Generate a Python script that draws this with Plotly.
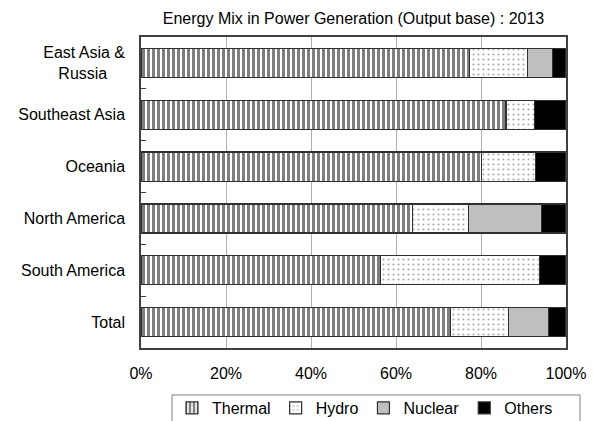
import plotly.graph_objects as go

regions = ["East Asia &<br>Russia" + "\u00a0" * 4, "Southeast Asia", "Oceania",
           "North America", "South America", "Total"]
thermal = [0.772, 0.859, 0.801, 0.639, 0.564, 0.728]
hydro = [0.138, 0.067, 0.127, 0.132, 0.374, 0.136]
nuclear = [0.059, 0.0, 0.0, 0.171, 0.0, 0.094]
others = [0.031, 0.074, 0.072, 0.058, 0.062, 0.042]

FONT = "Liberation Sans, Arial, sans-serif"
edge = dict(color="#303030", width=1.2)

fig = go.Figure()
fig.add_trace(go.Bar(y=regions, x=thermal, name="Thermal", orientation="h",
                     marker=dict(color="white", line=edge,
                                 pattern=dict(shape="|", fgcolor="black", bgcolor="white",
                                              size=5, solidity=0.6))))
fig.add_trace(go.Bar(y=regions, x=hydro, name="Hydro", orientation="h",
                     marker=dict(color="white", line=edge,
                                 pattern=dict(shape=".", fgcolor="#555555", bgcolor="white",
                                              size=5, solidity=0.15))))
fig.add_trace(go.Bar(y=regions, x=nuclear, name="Nuclear", orientation="h",
                     marker=dict(color="#bfbfbf", line=edge)))
fig.add_trace(go.Bar(y=regions, x=others, name="Others", orientation="h",
                     marker=dict(color="black", line=edge)))

# legend frame drawn as a shape so it can run off the bottom edge like the original
fig.add_shape(type="rect", xref="paper", yref="paper",
              x0=0.073, x1=1.033, y0=-0.151, y1=-0.27,
              line=dict(color="#808080", width=1), fillcolor="white", layer="below")

fig.update_layout(
    width=593, height=421,
    margin=dict(l=141, r=27, t=37, b=73, autoexpand=False),
    barmode="stack", bargap=0.44,
    paper_bgcolor="white", plot_bgcolor="white",
    font=dict(family=FONT, size=16, color="black"),
    title=dict(text="Energy Mix in Power Generation (Output base) : 2013",
               x=0.5, xref="paper", xanchor="center",
               y=0.957, yref="container", yanchor="middle",
               font=dict(size=16)),
    legend=dict(orientation="h", x=0.29, xref="container", xanchor="left",
                y=0.031, yref="container", yanchor="middle",
                bgcolor="rgba(0,0,0,0)", font=dict(size=16), traceorder="normal"),
    xaxis=dict(range=[0, 1], tickformat=".0%", dtick=0.2, showgrid=True,
               gridcolor="#b0b0b0", gridwidth=1, zeroline=False,
               showline=True, linecolor="#404040", linewidth=1.5, mirror=True,
               ticks="", ticklabelstandoff=10, automargin=False),
    yaxis=dict(autorange="reversed", showline=True, linecolor="#404040", linewidth=1.5,
               mirror=True, ticks="inside", ticklen=5, tickcolor="#404040",
               tickson="boundaries", showgrid=False, ticklabelstandoff=11,
               automargin=False),
)

# the page body has a default 8px margin; drop it so the chart sits at the corner
fig.write_html("out.html", config={"displayModeBar": False},
               post_script="document.body.style.margin='0';")
